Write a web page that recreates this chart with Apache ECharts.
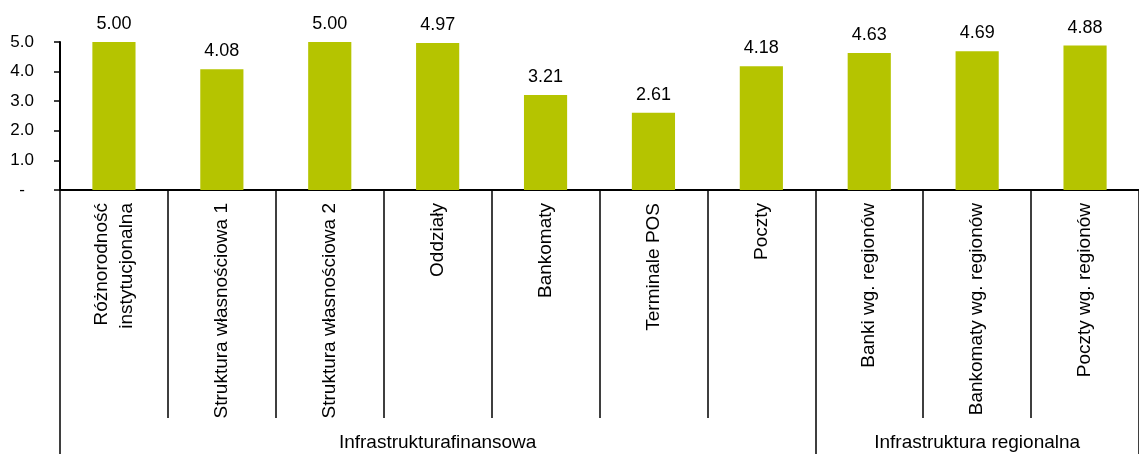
<!DOCTYPE html>
<html>
<head>
<meta charset="utf-8">
<script src="https://cdn.jsdelivr.net/npm/echarts@6/dist/echarts.min.js"></script>
<style>
html,body{margin:0;padding:0;background:#fff;}
#chart{width:1139px;height:454px;}
</style>
</head>
<body>
<div id="chart"></div>
<script>
const categories = [
  'Różnorodność\ninstytucjonalna',
  'Struktura własnościowa 1',
  'Struktura własnościowa 2',
  'Oddziały',
  'Bankomaty',
  'Terminale POS',
  'Poczty',
  'Banki wg. regionów',
  'Bankomaty wg. regionów',
  'Poczty wg. regionów'
];
const values = [5.00, 4.08, 5.00, 4.97, 3.21, 2.61, 4.18, 4.63, 4.69, 4.88];
const groupNames = ['Infrastrukturafinansowa', 'Infrastruktura regionalna'];
const groupBounds = [0, 7, 10];          // category index boundaries of groups
const groupCenters = [3.5, 8.5];
const yTicks = [0, 1, 2, 3, 4, 5];

const FONT = '"Liberation Sans", Arial, sans-serif';
const chart = echarts.init(document.getElementById('chart'));
chart.setOption({
  animation: false,
  backgroundColor: '#fff',
  grid: {left: 60, right: 0, top: 42, bottom: 264, containLabel: false},
  xAxis: [
    {
      type: 'category',
      data: categories,
      position: 'bottom',
      axisLine: {show: true, lineStyle: {color: '#000', width: 2}},
      axisTick: {show: true, alignWithLabel: false, length: 228, lineStyle: {color: '#000', width: 1.5}},
      axisLabel: {
        interval: 0, rotate: 90, margin: 13, color: '#000',
        fontFamily: FONT, fontSize: 19, lineHeight: 25
      },
      splitLine: {show: false}
    },
    {
      type: 'value',
      min: 0, max: 10,
      position: 'bottom',
      offset: 0,
      axisLine: {show: false},
      splitLine: {show: false},
      axisTick: {show: true, customValues: groupBounds, length: 264, lineStyle: {color: '#000', width: 1.5}},
      axisLabel: {
        show: true, customValues: groupCenters, margin: 243, color: '#000',
        fontFamily: FONT, fontSize: 19,
        formatter: function (v) { return v < groupBounds[1] ? groupNames[0] : groupNames[1]; }
      }
    }
  ],
  yAxis: {
    type: 'value',
    min: 0, max: 5, interval: 1,
    axisLine: {show: true, lineStyle: {color: '#000', width: 2}},
    axisTick: {show: true, length: 6, lineStyle: {color: '#000', width: 1.5}},
    splitLine: {show: false},
    axisLabel: {
      margin: 26, color: '#000', fontFamily: FONT, fontSize: 17,
      customValues: yTicks,
      formatter: function (v) { return v === 0 ? '{d|-}' : v.toFixed(1); },
      rich: {d: {fontFamily: FONT, fontSize: 17, color: '#000', padding: [0, 9, 0, 0]}}
    }
  },
  series: [{
    type: 'bar',
    xAxisIndex: 0,
    data: values,
    barWidth: '40%',
    itemStyle: {color: '#b5c400'},
    label: {
      show: true, position: 'top', distance: 9, color: '#000',
      fontFamily: FONT, fontSize: 18,
      formatter: function (p) { return p.value.toFixed(2); }
    }
  }]
});
</script>
</body>
</html>
